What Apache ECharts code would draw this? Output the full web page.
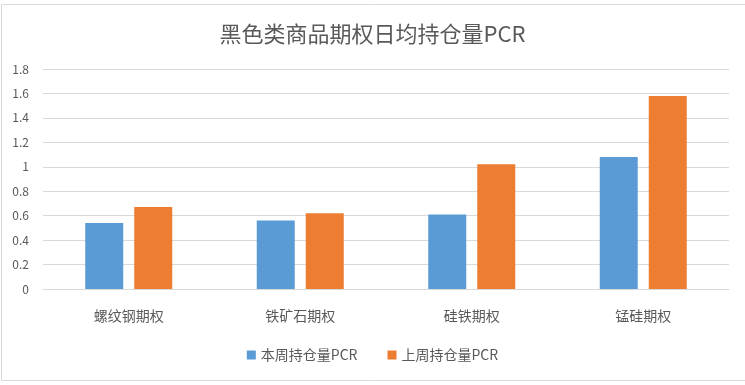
<!DOCTYPE html>
<html><head><meta charset="utf-8">
<script src="https://cdn.jsdelivr.net/npm/echarts@6/dist/echarts.min.js"></script>
<style>html,body{margin:0;padding:0;background:#fff}#c{width:745px;height:385px}</style>
</head><body><div id="c"></div>
<script>
const categories = ['螺纹钢期权', '铁矿石期权', '硅铁期权', '锰硅期权'];
const thisWeek = [0.54, 0.56, 0.61, 1.08];
const lastWeek = [0.67, 0.62, 1.02, 1.58];
const seriesNames = ['本周持仓量PCR', '上周持仓量PCR'];
const yTicks = { min: 0, max: 1.8, interval: 0.2 };

const chart = echarts.init(document.getElementById('c'), null, { renderer: 'canvas' });
const font = '"Noto Sans CJK SC", "Microsoft YaHei", sans-serif';
chart.setOption({
  animation: false,
  backgroundColor: '#fff',
  graphic: [{ type: 'rect', shape: { x: 1.5, y: 4.5, width: 800, height: 376 }, style: { fill: 'none', stroke: '#d9d9d9', lineWidth: 1 }, silent: true }],
  title: {
    text: '黑色类商品期权日均持仓量PCR', left: 'center', top: 18,
    textStyle: { fontFamily: font, fontSize: 22, fontWeight: 'normal', color: '#595959' }
  },
  legend: {
    data: seriesNames, bottom: 18, left: 'center', itemWidth: 9, itemHeight: 9, itemGap: 30,
    icon: 'rect',
    textStyle: { fontFamily: font, fontSize: 14, color: '#595959' }
  },
  grid: { left: 43, right: 16, top: 69, bottom: 96 },
  xAxis: {
    type: 'category', data: categories,
    axisLine: { lineStyle: { color: '#d9d9d9' } }, axisTick: { show: false },
    axisLabel: { fontFamily: font, fontSize: 14, color: '#595959', margin: 20 }
  },
  yAxis: {
    type: 'value', min: yTicks.min, max: yTicks.max, interval: yTicks.interval,
    axisLine: { show: false }, axisTick: { show: false },
    splitLine: { lineStyle: { color: '#d9d9d9' } },
    axisLabel: { fontFamily: font, fontSize: 12, color: '#595959', margin: 14,
      formatter: v => (Math.round(v * 10) / 10).toString() }
  },
  series: [
    { name: seriesNames[0], type: 'bar', data: thisWeek, itemStyle: { color: '#5B9BD5' }, barWidth: 38, barGap: '29%' },
    { name: seriesNames[1], type: 'bar', data: lastWeek, itemStyle: { color: '#ED7D31' }, barWidth: 38, barGap: '29%' }
  ]
});
</script></body></html>
